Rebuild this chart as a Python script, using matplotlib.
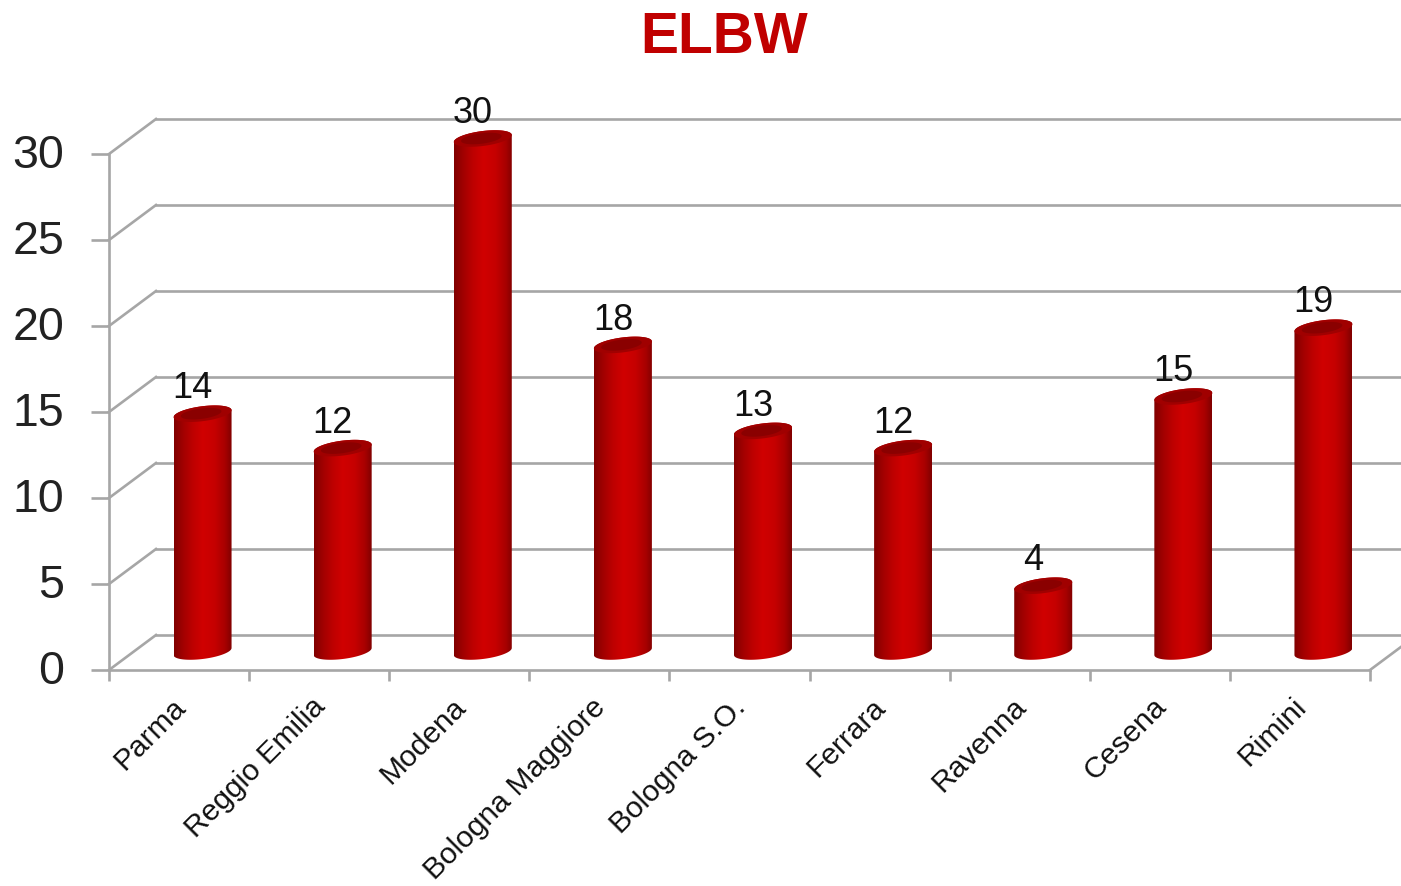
import numpy as np
import matplotlib
matplotlib.use("Agg")
import matplotlib.pyplot as plt
from matplotlib.colors import LinearSegmentedColormap
from matplotlib.patches import Polygon
from matplotlib.transforms import ScaledTranslation

plt.rcParams['font.family'] = ['Liberation Sans', 'DejaVu Sans']

title = "ELBW"
categories = ["Parma", "Reggio Emilia", "Modena", "Bologna Maggiore", "Bologna S.O.",
              "Ferrara", "Ravenna", "Cesena", "Rimini"]
values = [14, 12, 30, 18, 13, 12, 4, 15, 19]
y_ticks = [0, 5, 10, 15, 20, 25, 30]

W, H = 1401, 886
L, R, B, T = 109, 1370, 670, 154
fig = plt.figure(figsize=(W / 100, H / 100), dpi=100, facecolor='white')
ax = fig.add_axes([L / W, 1 - B / H, (R - L) / W, (B - T) / H])
n = len(categories)
ax.set_xlim(0, n)
ax.set_ylim(0, 30)
ax.set_facecolor('none')

sx = (R - L) / n
sy = (B - T) / 30
dx, dy = 47 / sx, 35 / sy          # depth of the 3-D box
grey = '#a6a6a6'
lw = 1.9


def px(x, y):
    return ScaledTranslation(x / 100, -y / 100, fig.dpi_scale_trans)


for s in ['top', 'right']:
    ax.spines[s].set_visible(False)
for s in ['left', 'bottom']:
    ax.spines[s].set_color(grey)
    ax.spines[s].set_linewidth(lw)

# major ticks at category edges, labels on minor ticks at centres
ax.set_xticks(np.arange(n + 1))
ax.set_xticklabels([])
ax.set_xticks(np.arange(n) + 0.5, minor=True)
ax.set_xticklabels(categories, minor=True, rotation=45, ha='right', va='top',
                   rotation_mode='anchor', fontsize=21.6, color='#111111')
ax.tick_params(axis='x', which='major', length=8, width=lw, color=grey)
ax.tick_params(axis='x', which='minor', length=0, pad=25)
for lab in ax.get_xticklabels(minor=True):
    lab.set_transform(lab.get_transform() + px(-8, -12))
ax.set_yticks(y_ticks)
ax.set_yticklabels([str(v) for v in y_ticks], fontsize=33.5, color='#222222')
ax.tick_params(axis='y', length=13, width=lw, color=grey, pad=19)
for lab in ax.get_yticklabels():
    lab.set_transform(lab.get_transform() + px(0, -3))

# walls
for v in y_ticks:
    ax.plot([0, dx], [v, v + dy], color=grey, lw=lw, clip_on=False, zorder=1)
    ax.plot([dx, (W - L) / sx], [v + dy, v + dy], color=grey, lw=lw, clip_on=False, zorder=1)
ax.plot([n, n + (W - R) / sx], [0, (W - R) / sx * dy / dx], color=grey, lw=lw, clip_on=False, zorder=1)

# cylinders
cmap = LinearSegmentedColormap.from_list('cyl', [
    (0.0, '#800000'), (0.15, '#a00000'), (0.32, '#bd0000'), (0.5, '#d00000'),
    (0.7, '#c60000'), (0.88, '#a80000'), (1.0, '#800000')])
grad = np.linspace(0, 1, 256)[None, :]
hw = 29 / sx
eh = 7.5 / sy
tilt = 3.5 / sy
t = np.linspace(0, 2 * np.pi, 120)
top_off = 0.5 * dy - 2 / sy
base_off = 0.5 * dy + 1 / sy


def ellipse(cx, cy, f=1.0):
    return cx + f * hw * np.cos(t), cy + f * (tilt * np.cos(t) + eh * np.sin(t))


for i, v in enumerate(values):
    cx = i + 0.5 + 0.5 * dx
    ytop = v + top_off
    ybase = base_off
    tb = np.linspace(np.pi, 2 * np.pi, 60)      # lower half, left to right
    xb = cx + hw * np.cos(tb)
    yb = ybase + tilt * np.cos(tb) + eh * np.sin(tb)
    tu = np.linspace(0, np.pi, 60)              # upper half, right to left
    xt = cx + hw * np.cos(tu)
    yt = ytop + tilt * np.cos(tu) + eh * np.sin(tu)
    body = Polygon(np.c_[np.r_[xb, xt], np.r_[yb, yt]], closed=True,
                   transform=ax.transData, fc='none', ec='none')
    ax.add_patch(body)
    body.set_clip_on(False)
    im = ax.imshow(grad, extent=[cx - hw, cx + hw, ybase - eh - tilt, ytop + eh + tilt],
                   aspect='auto', cmap=cmap, vmin=0, vmax=1, zorder=3, origin='lower',
                   interpolation='bilinear')
    im.set_clip_path(body)
    im.set_clip_box(fig.bbox)
    ex, ey = ellipse(cx, ytop)
    ax.fill(ex, ey, color='#a00000', zorder=4, clip_on=False, lw=0)
    ex, ey = ellipse(cx - 0.01, ytop, 0.7)
    ax.fill(ex, ey, color='#8a0000', zorder=4, clip_on=False, lw=0)
    ax.text(i + 0.5 + 0.33 * dx - 0.07, v + 0.5 * dy + 0.6, str(v), ha='center', va='bottom',
            fontsize=26, color='#111111', zorder=5, clip_on=False,
            transform=ax.transData + px(8, 5))

ax.set_xlim(0, n)
ax.set_ylim(0, 30)

fig.text(724 / W, 1 - 38 / H, title, ha='center', va='center', fontsize=41,
         fontweight='bold', color='#c00000')
fig.savefig('out.png', dpi=100, facecolor='white')
